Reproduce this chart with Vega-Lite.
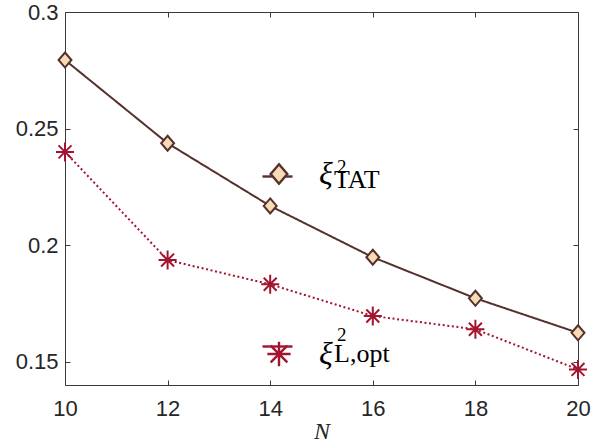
{
  "$schema": "https://vega.github.io/schema/vega-lite/v6.json",
  "width": 513,
  "height": 373,
  "autosize": {"type": "none"},
  "padding": {"left": 65, "top": 12, "right": 31, "bottom": 57},
  "background": "white",
  "config": {
    "view": {"stroke": null},
    "axis": {
      "domainColor": "#3a3a3a",
      "domainWidth": 1,
      "tickColor": "#3a3a3a",
      "tickWidth": 1,
      "tickSize": -5,
      "grid": false,
      "labelFlush": false,
      "labelOverlap": false,
      "labelFont": "Liberation Sans",
      "labelFontSize": 22,
      "labelColor": "#262626",
      "titleFont": "Liberation Serif",
      "titleFontStyle": "italic",
      "titleFontWeight": "normal",
      "titleFontSize": 24,
      "titleColor": "#262626"
    },
    "legend": {
      "orient": "none",
      "direction": "vertical",
      "padding": 0,
      "offset": 0,
      "title": null,
      "labelLimit": 300
    }
  },
  "data": {
    "values": [
      {"N": 10, "y": 0.2794, "series": "TAT"},
      {"N": 12, "y": 0.2437, "series": "TAT"},
      {"N": 14, "y": 0.2168, "series": "TAT"},
      {"N": 16, "y": 0.1948, "series": "TAT"},
      {"N": 18, "y": 0.1772, "series": "TAT"},
      {"N": 20, "y": 0.1624, "series": "TAT"},
      {"N": 10, "y": 0.2400, "series": "L,opt"},
      {"N": 12, "y": 0.1936, "series": "L,opt"},
      {"N": 14, "y": 0.1832, "series": "L,opt"},
      {"N": 16, "y": 0.1696, "series": "L,opt"},
      {"N": 18, "y": 0.1639, "series": "L,opt"},
      {"N": 20, "y": 0.1467, "series": "L,opt"}
    ]
  },
  "layer": [
    {
      "mark": {"type": "line", "clip": false},
      "encoding": {
        "x": {
          "field": "N", "type": "quantitative",
          "scale": {"domain": [10, 20], "nice": false, "zero": false},
          "axis": {"orient": "bottom", "values": [10, 12, 14, 16, 18, 20], "format": "d", "labelPadding": 18, "title": "N", "titlePadding": 0}
        },
        "y": {
          "field": "y", "type": "quantitative",
          "scale": {"domain": [0.14, 0.3], "nice": false, "zero": false},
          "axis": {"orient": "left", "values": [0.15, 0.2, 0.25, 0.3], "format": "~g", "labelPadding": 12, "title": null}
        },
        "color": {
          "field": "series", "type": "nominal",
          "sort": {"field": "y", "op": "max", "order": "descending"},
          "scale": {"range": ["#55302c", "#a2142f"]},
          "legend": {
            "legendX": 196, "legendY": 148,
            "symbolType": "stroke",
            "symbolSize": 900, "symbolStrokeWidth": 2.4, "symbolOpacity": 1,
            "labelOffset": 0,
            "labelExpr": "''",
            "labelFontSize": 1,
            "rowPadding": 148
          }
        },
        "strokeDash": {
          "field": "series", "type": "nominal",
          "sort": "descending",
          "scale": {"range": [[1, 0], [2, 2.6]]},
          "legend": {
            "legendX": 253, "legendY": 145,
            "symbolSize": 1, "symbolOpacity": 0, "symbolStrokeWidth": 0,
            "labelOffset": 0,
            "labelExpr": "'2'",
            "labelFont": "Liberation Serif", "labelFontSize": 19, "labelColor": "#000000",
            "rowPadding": 148
          }
        },
        "strokeWidth": {
          "field": "series", "type": "ordinal",
          "sort": {"field": "y", "op": "min", "order": "descending"},
          "scale": {"range": [2, 2]},
          "legend": {
            "legendX": 243, "legendY": 155,
            "symbolSize": 1, "symbolOpacity": 0, "symbolStrokeWidth": 0,
            "labelOffset": 0,
            "labelFont": "Liberation Serif", "labelFontSize": 26, "labelColor": "#000000",
            "rowPadding": 148
          }
        }
      }
    },
    {
      "mark": {"type": "point", "filled": false, "fill": "#f5dcb4", "fillOpacity": 1, "strokeWidth": 2, "opacity": 1, "size": 361, "clip": false},
      "encoding": {
        "x": {
          "field": "N", "type": "quantitative",
          "axis": {"orient": "top", "values": [10, 12, 14, 16, 18, 20], "labels": false, "title": null}
        },
        "y": {
          "field": "y", "type": "quantitative",
          "axis": {"orient": "right", "values": [0.15, 0.2, 0.25, 0.3], "labels": false, "title": null}
        },
        "shape": {
          "field": "series", "type": "nominal",
          "scale": {
            "domain": ["TAT", "L,opt"],
            "range": ["M0,-0.79L0.68,0L0,0.79L-0.68,0Z", "M-0.95,0H0.95M0,-1V1M-0.68,-0.68L0.68,0.68M-0.68,0.68L0.68,-0.68"]
          },
          "legend": {
            "legendX": 198, "legendY": 146,
            "symbolSize": 600, "symbolStrokeWidth": 2.4, "symbolOpacity": 1,
            "labelOffset": 24,
            "labelExpr": "'ξ'",
            "labelFont": "Liberation Serif", "labelFontStyle": "italic", "labelFontSize": 32, "labelColor": "#000000",
            "rowPadding": 146
          }
        },
        "stroke": {
          "field": "series", "type": "nominal",
          "scale": {"domain": ["TAT", "L,opt"], "range": ["#55302c", "#a2142f"]},
          "legend": {
            "legendX": 198, "legendY": 146,
            "symbolSize": 600, "symbolStrokeWidth": 2.4, "symbolOpacity": 1,
            "labelOffset": 24,
            "labelExpr": "'ξ'",
            "labelFont": "Liberation Serif", "labelFontStyle": "italic", "labelFontSize": 32, "labelColor": "#000000",
            "rowPadding": 146
          }
        }
      }
    }
  ],
  "resolve": {
    "axis": {"x": "independent", "y": "independent"},
    "scale": {"color": "independent", "strokeDash": "independent", "strokeWidth": "independent", "shape": "independent", "stroke": "independent"},
    "legend": {"color": "independent", "strokeDash": "independent", "strokeWidth": "independent", "shape": "independent", "stroke": "independent"}
  }
}
